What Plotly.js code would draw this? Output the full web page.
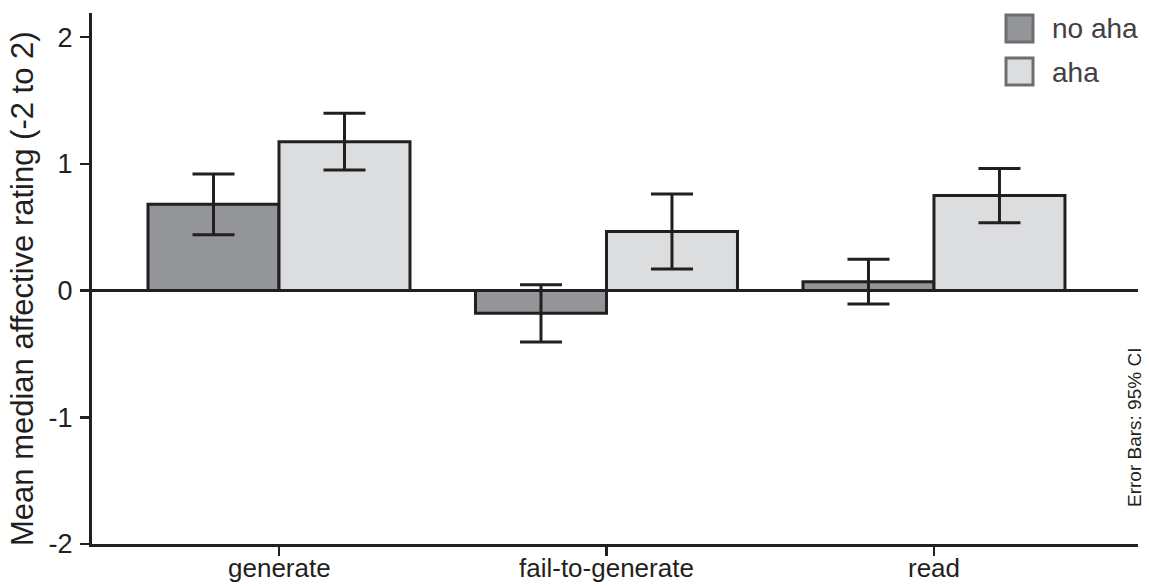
<!DOCTYPE html>
<html>
<head>
<meta charset="utf-8">
<script src="https://cdn.plot.ly/plotly-3.0.1.min.js"></script>
<style>
  html, body { margin: 0; padding: 0; background: #ffffff; }
  #chart { width: 1149px; height: 586px; }
</style>
</head>
<body>
<div id="chart"></div>
<script>
// ---- data ----
const categories = ["generate", "fail-to-generate", "read"];
const seriesNames = ["no aha", "aha"];
const noAhaValues = [0.68, -0.18, 0.07];
const noAhaErrors = [0.24, 0.226, 0.176];
const ahaValues = [1.175, 0.465, 0.749];
const ahaErrors = [0.224, 0.296, 0.214];
const yTickValues = [-2, -1, 0, 1, 2];
const yTickLabels = ["-2", "-1", "0", "1", "2"];
const yAxisTitle = "Mean median affective rating (-2 to 2)";
const noteText = "Error Bars: 95% CI";

// ---- styles ----
const ink = "#231f20";
const fillNoAha = "#939598";
const fillAha = "#dcdddf";
const font = "Liberation Sans, Arial, sans-serif";

function barTrace(name, values, errors, fill) {
  return {
    type: "bar",
    name: name,
    x: categories,
    y: values,
    marker: { color: fill, line: { color: ink, width: 3 } },
    error_y: { type: "data", array: errors, visible: true, color: ink, thickness: 3, width: 21 },
    showlegend: false,
    hoverinfo: "skip"
  };
}

const data = [
  barTrace(seriesNames[0], noAhaValues, noAhaErrors, fillNoAha),
  barTrace(seriesNames[1], ahaValues, ahaErrors, fillAha)
];

const plotL = 92, plotR = 1138, plotT = 13, plotB = 544;
const px2x = p => (p - plotL) / (plotR - plotL);
const px2y = p => (plotB - p) / (plotB - plotT);

// custom legend (large swatches)
const legendFills = [fillNoAha, fillAha];
const shapes = [];
const annotations = [];
seriesNames.forEach((nm, i) => {
  const top = 14 + i * 43;
  shapes.push({
    type: "rect", xref: "paper", yref: "paper",
    x0: px2x(1006), x1: px2x(1033), y0: px2y(top + 28), y1: px2y(top + 1),
    fillcolor: legendFills[i], line: { color: "#6d6e70", width: 3 }
  });
  annotations.push({
    xref: "paper", yref: "paper", x: px2x(1050), y: px2y(top + 15),
    xanchor: "left", yanchor: "middle", showarrow: false,
    text: nm, font: { family: font, size: 28, color: "#414042" }
  });
});

// category labels (drawn as annotations so they sit close to the ticks)
categories.forEach(c => {
  annotations.push({
    xref: "x", yref: "paper", x: c, y: 0, yanchor: "top", xanchor: "center",
    yshift: -8, showarrow: false, borderpad: 0,
    text: c, font: { family: font, size: 26, color: ink }
  });
});

// y-axis title
annotations.push({
  xref: "paper", yref: "paper", x: 0, y: px2y(289),
  xshift: -70, xanchor: "center", yanchor: "middle", showarrow: false,
  textangle: -90, text: yAxisTitle, font: { family: font, size: 31, color: ink }
});
// error bars note
annotations.push({
  xref: "paper", yref: "paper", x: 1, y: px2y(428),
  xshift: -3, xanchor: "center", yanchor: "middle", showarrow: false,
  textangle: -90, text: noteText, font: { family: font, size: 19, color: ink }
});

const layout = {
  width: 1149, height: 586,
  margin: { l: plotL, r: 1149 - plotR, t: plotT, b: 586 - plotB, pad: 0 },
  paper_bgcolor: "#ffffff", plot_bgcolor: "#ffffff",
  barmode: "group", bargap: 0.2, bargroupgap: 0,
  showlegend: false,
  xaxis: {
    type: "category", range: [-0.571, 2.623],
    showline: true, linecolor: ink, linewidth: 3,
    ticks: "outside", ticklen: 9, tickwidth: 2.5, tickcolor: ink,
    showgrid: false, zeroline: false, showticklabels: false
  },
  yaxis: {
    range: [-2, 2.19], tickvals: yTickValues, ticktext: yTickLabels,
    showline: true, linecolor: ink, linewidth: 3,
    ticks: "outside", ticklen: 9, tickwidth: 2.5, tickcolor: ink,
    showgrid: false, zeroline: true, zerolinecolor: ink, zerolinewidth: 2.5,
    tickfont: { family: font, size: 27, color: ink }, ticklabelstandoff: 2
  },
  shapes: shapes,
  annotations: annotations
};

Plotly.newPlot("chart", data, layout, { staticPlot: true, displayModeBar: false });
</script>
</body>
</html>
